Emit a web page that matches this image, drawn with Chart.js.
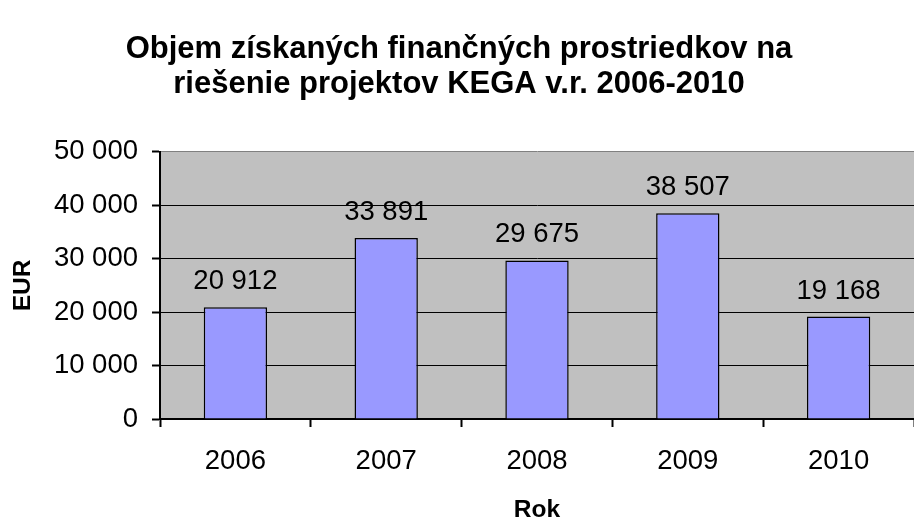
<!DOCTYPE html>
<html><head><meta charset="utf-8">
<script src="https://cdn.jsdelivr.net/npm/chart.js@4"></script>
<style>html,body{margin:0;padding:0;background:#fff;overflow:hidden}#wrap{width:914px;height:517px}</style>
</head><body><div id="wrap"><canvas id="c" width="914" height="517"></canvas></div>
<script>
const titleLines = ['Objem získaných finančných prostriedkov na', 'riešenie projektov KEGA v.r. 2006-2010'];
const years = ['2006', '2007', '2008', '2009', '2010'];
const amounts = [20912, 33891, 29675, 38507, 19168];
const yMin = 0, yMax = 50000, yStep = 10000;
const xAxisTitle = 'Rok';
const yAxisTitle = 'EUR';

const FONT = "'Liberation Sans', Arial, sans-serif";
function fmt(v) { return String(v).replace(/\B(?=(\d{3})+(?!\d))/g, ' '); }

const bgPlugin = {
  id: 'bg',
  beforeDraw(chart) {
    const {ctx, chartArea: a} = chart;
    ctx.save();
    ctx.fillStyle = '#fff';
    ctx.fillRect(0, 0, chart.width, chart.height);
    ctx.fillStyle = '#C0C0C0';
    ctx.fillRect(a.left, a.top, a.right - a.left, a.bottom - a.top);
    ctx.restore();
  }
};
const titleShift = {
  id: 'titleShift',
  afterLayout(chart) {
    const t = chart.titleBlock;
    if (t) { t.left -= 5; t.right -= 5; }
  }
};
const valueLabels = {
  id: 'valueLabels',
  afterDatasetsDraw(chart) {
    const {ctx} = chart;
    const meta = chart.getDatasetMeta(0);
    ctx.save();
    ctx.font = "27.5px " + FONT;
    ctx.fillStyle = '#000';
    ctx.textAlign = 'center';
    ctx.textBaseline = 'alphabetic';
    meta.data.forEach((bar, i) => {
      ctx.fillText(fmt(chart.data.datasets[0].data[i]), bar.x, bar.y - 18);
    });
    ctx.restore();
  }
};

new Chart(document.getElementById('c'), {
  type: 'bar',
  data: {
    labels: years,
    datasets: [{
      data: amounts,
      backgroundColor: '#9999FF',
      borderColor: '#000',
      borderWidth: 1.5,
      barPercentage: 0.42,
      categoryPercentage: 1
    }]
  },
  options: {
    responsive: false,
    animation: false,
    layout: { padding: { left: 0, right: -14, top: 0, bottom: 0 } },
    plugins: {
      legend: { display: false },
      tooltip: { enabled: false },
      title: {
        display: true,
        text: titleLines,
        color: '#000',
        font: { family: FONT, size: 31, weight: 'bold', lineHeight: 1.16 },
        padding: { top: 31, bottom: 49 }
      }
    },
    scales: {
      x: {
        offset: true,
        grid: { offset: true, drawOnChartArea: false, drawTicks: true, tickLength: 8, tickColor: '#000', tickWidth: 2, color: '#000' },
        border: { display: true, color: '#000', width: 2 },
        ticks: { color: '#000', font: { family: FONT, size: 27.5 }, padding: 18, maxRotation: 0 },
        title: { display: true, text: xAxisTitle, color: '#000', font: { family: FONT, size: 24.5, weight: 'bold', lineHeight: 1 }, padding: { top: 0, bottom: -5 } },
        afterFit(scale) { scale.height = 98; }
      },
      y: {
        min: yMin, max: yMax,
        grid: {
          color: (c) => (c.tick && c.tick.value === yMax ? '#808080' : '#000'),
          lineWidth: 1, drawTicks: true, tickLength: 8, tickColor: '#000', tickWidth: 2
        },
        border: { display: true, color: '#000', width: 2 },
        ticks: { stepSize: yStep, color: '#000', font: { family: FONT, size: 27.5 }, padding: 14, callback: (v) => fmt(v) },
        title: { display: true, text: yAxisTitle, color: '#000', font: { family: FONT, size: 24.5, weight: 'bold', lineHeight: 1 }, padding: { top: 11, bottom: 0 } },
        afterFit(scale) { scale.width = 160; }
      }
    }
  },
  plugins: [bgPlugin, titleShift, valueLabels]
});
</script>
</body></html>
